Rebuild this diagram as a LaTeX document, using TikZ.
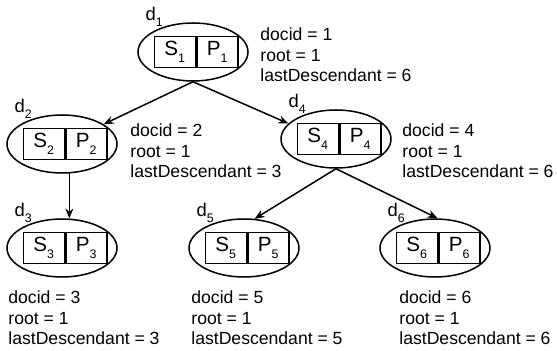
\documentclass[tikz,border=0pt]{standalone}
\usepackage{fontspec}
\setmainfont{Liberation Sans}
\usetikzlibrary{
  positioning,
  arrows.meta,
  shapes.geometric
}
\newcommand{\idx}[1]{\raisebox{-0.6ex}{\fontsize{6.2}{6.2}\selectfont #1}}

\begin{document}
\begin{tikzpicture}[
  x=0.5pt, y=-0.5pt,
  doc/.style={draw, ellipse, line width=0.75pt, minimum width=55pt, minimum height=29pt,
              inner sep=0pt},
  cell/.style={draw, line width=0.75pt, minimum width=20.5pt, minimum height=15.5pt,
               inner sep=0pt, font=\fontsize{10.3}{11}\selectfont},
  dlab/.style={anchor=south east, inner sep=0pt, font=\fontsize{9.2}{10}\selectfont},
  info/.style={align=left, inner sep=0pt, font=\fontsize{8.8}{10.25}\selectfont},
  arr/.style={-{Stealth[length=5pt, width=4pt]}, line width=0.75pt},
]
  \useasboundingbox (0, 0) rectangle (557, 351);

  % Documents (root on top)
  \node[doc] (d1) at (193, 52) {};
  \node[doc] (d2) at (62, 144) {};
  \node[doc] (d4) at (336, 139) {};
  \node[doc] (d3) at (62, 248) {};
  \node[doc] (d5) at (244, 248) {};
  \node[doc] (d6) at (435, 248) {};

  % S | P boxes
  \node[cell, anchor=east] (s1) at ([xshift=1.5pt]d1.center) {S\idx{1}};
  \node[cell, anchor=west] (p1) at ([xshift=1.5pt]d1.center) {P\idx{1}};
  \node[cell, anchor=east] (s2) at ([xshift=1.5pt]d2.center) {S\idx{2}};
  \node[cell, anchor=west] (p2) at ([xshift=1.5pt]d2.center) {P\idx{2}};
  \node[cell, anchor=east] (s3) at ([xshift=1.5pt]d3.center) {S\idx{3}};
  \node[cell, anchor=west] (p3) at ([xshift=1.5pt]d3.center) {P\idx{3}};
  \node[cell, anchor=east] (s4) at ([xshift=1.5pt]d4.center) {S\idx{4}};
  \node[cell, anchor=west] (p4) at ([xshift=1.5pt]d4.center) {P\idx{4}};
  \node[cell, anchor=east] (s5) at ([xshift=1.5pt]d5.center) {S\idx{5}};
  \node[cell, anchor=west] (p5) at ([xshift=1.5pt]d5.center) {P\idx{5}};
  \node[cell, anchor=east] (s6) at ([xshift=1.5pt]d6.center) {S\idx{6}};
  \node[cell, anchor=west] (p6) at ([xshift=1.5pt]d6.center) {P\idx{6}};

  % Names
  \node[dlab] (l1) at (d1.140) {d\idx{1}};
  \node[dlab] (l2) at (d2.140) {d\idx{2}};
  \node[dlab] (l3) at (d3.140) {d\idx{3}};
  \node[dlab] (l4) at (d4.140) {d\idx{4}};
  \node[dlab] (l5) at (d5.140) {d\idx{5}};
  \node[dlab] (l6) at (d6.140) {d\idx{6}};

  % Attributes
  \node[info, anchor=west] (i1) at (260, 55) {docid = 1\\root = 1\\lastDescendant = 6};
  \node[info, anchor=west] (i2) at (130, 151) {docid = 2\\root = 1\\lastDescendant = 3};
  \node[info, anchor=west] (i4) at (402, 151) {docid = 4\\root = 1\\lastDescendant = 6};
  \node[info, anchor=west] (i3) at (8, 318) {docid = 3\\root = 1\\lastDescendant = 3};
  \node[info, anchor=west] (i5) at (191, 318) {docid = 5\\root = 1\\lastDescendant = 5};
  \node[info, anchor=west] (i6) at (399, 318) {docid = 6\\root = 1\\lastDescendant = 6};

  \draw[arr] (d1.south) -- (d2);
  \draw[arr] (d1.south) -- (d4.162);
  \draw[arr] (d2.-76) -- (d3.76);
  \draw[arr] (d4.south) -- (d5.70);
  \draw[arr] (d4.south) -- (d6.85);
\end{tikzpicture}
\end{document}
